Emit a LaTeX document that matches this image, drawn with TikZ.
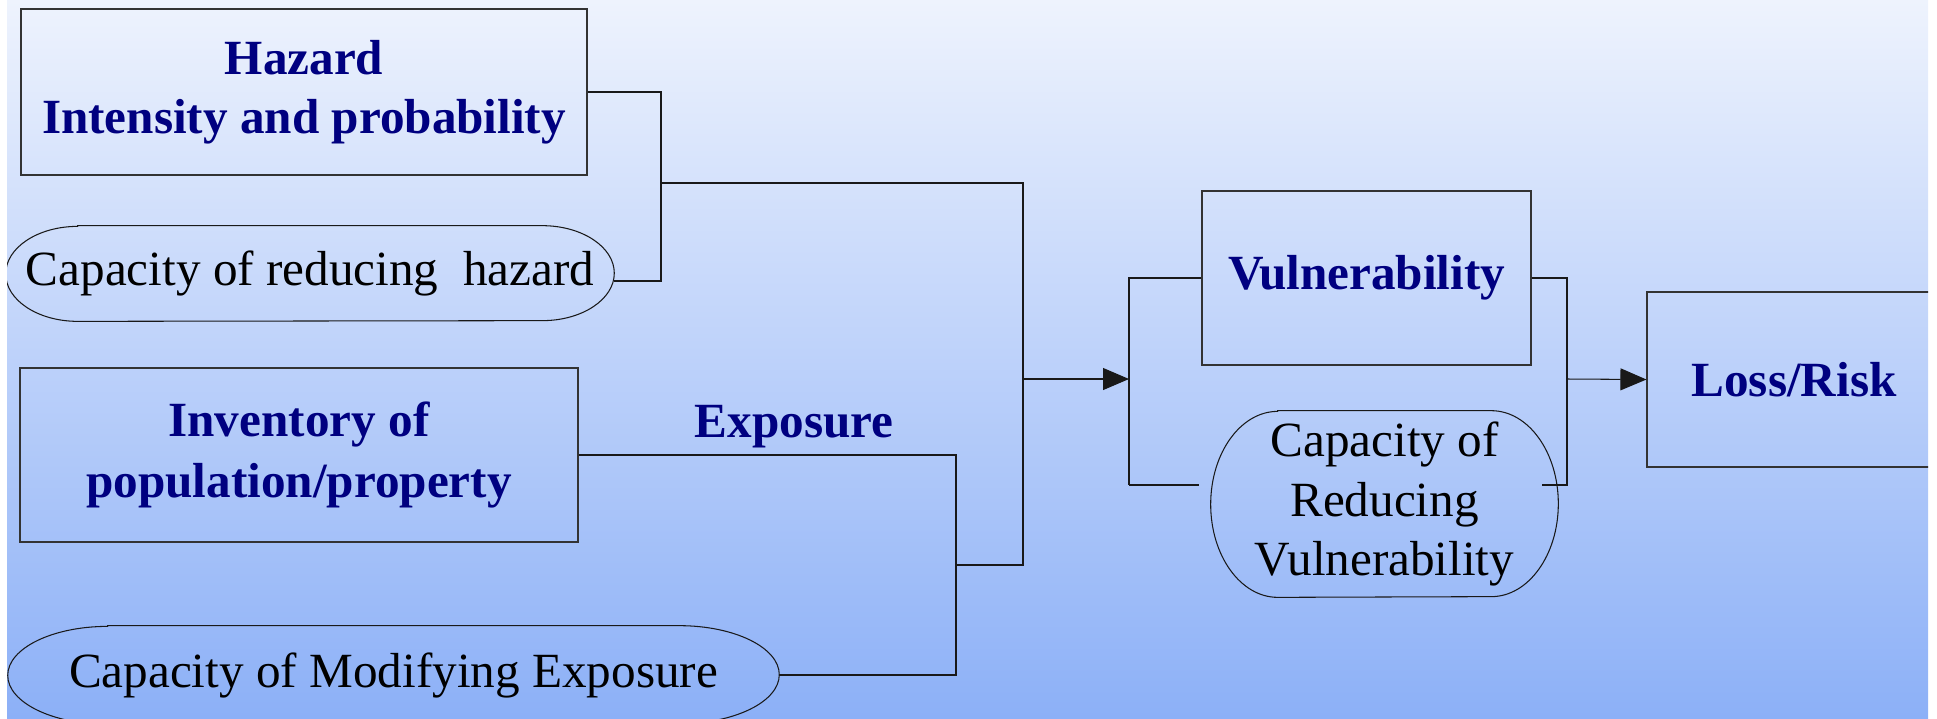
\documentclass[tikz,border=0pt]{standalone}
\usepackage{fontspec}
\setmainfont{Liberation Serif}
\usetikzlibrary{arrows.meta}
\definecolor{titleblue}{RGB}{0,0,128}
\definecolor{bgtop}{RGB}{238,243,253}
\definecolor{bgbottom}{RGB}{140,176,247}
\newcommand{\capsule}[3]{%
  \draw[wire] ([xshift=#2]#1.north west) -- ([xshift=-#2]#1.north east)
    arc[start angle=90,end angle=-90,x radius=#2,y radius=#3]
    -- ([xshift=#2]#1.south west)
    arc[start angle=270,end angle=90,x radius=#2,y radius=#3] -- cycle;}

\begin{document}
\begin{tikzpicture}[x=0.02cm,y=-0.02cm,
  wire/.style={draw=black!90,line width=0.6pt},
  box/.style={draw=black!80,line width=0.7pt,rectangle,inner sep=0pt,align=center,
    text=titleblue,font=\fontsize{28}{33.6}\selectfont\bfseries},
  capnode/.style={inner sep=0pt,align=center,font=\fontsize{28}{34}\selectfont},
  >={Triangle[length=0.52cm,width=0.44cm]}]
\useasboundingbox (0,0) rectangle (1937,718);
\clip (7,0) rectangle (1928,718);
\shade[top color=bgtop,bottom color=bgbottom] (7,0) rectangle (1928,718);

\node[box,minimum width=11.32cm,minimum height=3.32cm] (hazard) at (304,92) {Hazard\\Intensity and probability};
\node[capnode,minimum width=12.16cm,minimum height=1.9cm] (redhaz) at (310,273.5) {Capacity of reducing\ \ hazard};
\capsule{redhaz}{1.44cm}{0.95cm}
\node[box,minimum width=11.16cm,minimum height=3.48cm,font=\fontsize{28}{34.5}\selectfont\bfseries] (invent) at (299,455) {Inventory of\\population/property};
\node[capnode,minimum width=15.42cm,minimum height=1.96cm] (modexp) at (393.5,675) {Capacity of Modifying Exposure};
\capsule{modexp}{2cm}{0.98cm}
\node[text=titleblue,font=\fontsize{28}{34}\selectfont\bfseries,anchor=base] (expo) at (794,437) {Exposure};
\node[box,minimum width=6.58cm,minimum height=3.48cm] (vuln) at (1366.5,278) {Vulnerability};
\node[capnode,minimum width=6.94cm,minimum height=3.72cm] (redvul) at (1384.5,504) {Capacity of\\Reducing\\Vulnerability};
\capsule{redvul}{1.34cm}{1.86cm}
\node[box,minimum width=5.88cm,minimum height=3.5cm] (loss) at (1794,379.5) {Loss/Risk};

\coordinate (hazjoin) at (661,183);
\coordinate (sumbot) at (1023,565);
\coordinate (expjoin) at (956,565);
\coordinate (midjoin) at (1023,379);
\coordinate (vulin) at (1129,379);
\coordinate (vulbot) at (1129,485);
\coordinate (vulend) at (1199,485);
\coordinate (vulrbot) at (1567,485);
\coordinate (vulrend) at (1542,485);
\coordinate (vulout) at (1567,379);

\draw[wire] (hazard.east) -| (hazjoin) |- ([yshift=-0.15cm]redhaz.east);
\draw[wire] (hazjoin) -| (sumbot) -- (expjoin);
\draw[wire] (invent.east) -| (expjoin) |- (modexp.east);
\draw[wire,->] (midjoin) -- (vulin);
\draw[wire] (vuln.west) -| (vulbot);
\draw[wire,line width=1.6pt] (vulbot) -- (vulend);
\draw[wire] (vuln.east) -| (vulrbot) -- (vulrend);
\draw[wire,->] (vulout) -- (loss.west);
\end{tikzpicture}
\end{document}
